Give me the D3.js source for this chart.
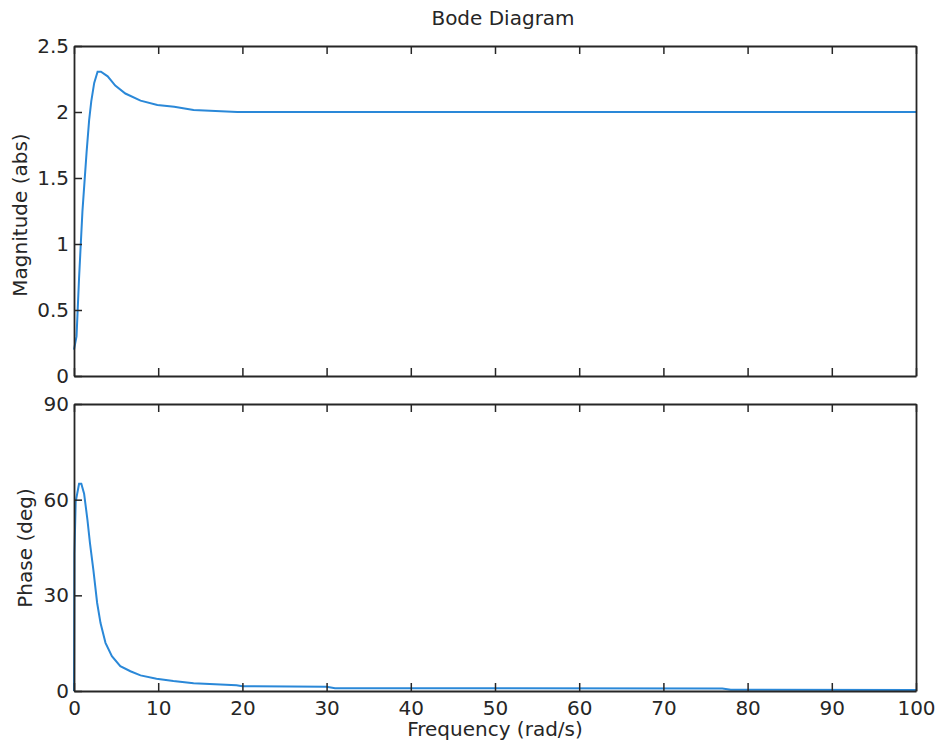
<!DOCTYPE html>
<html><head><meta charset="utf-8">
<script src="https://cdn.jsdelivr.net/npm/d3@7"></script>
<style>
html,body{margin:0;padding:0;background:#fff;}
svg text{font-family:"DejaVu Sans",sans-serif;fill:#262626;}
</style></head>
<body>
<svg id="chart" width="942" height="742"></svg>
<script>
// ---- data ----
const titleText = "Bode Diagram";
const xLabel = "Frequency  (rad/s)";
const magLabel = "Magnitude (abs)";
const phaseLabel = "Phase (deg)";
const xTicks = [0,10,20,30,40,50,60,70,80,90,100];
const magTicks = [0,0.5,1,1.5,2,2.5];
const magTickLabels = ["0","0.5","1","1.5","2","2.5"];
const phaseTicks = [0,30,60,90];
const freqMag = [0, 0.3, 0.6, 1.0, 1.5, 1.8, 2.05, 2.4, 2.8, 3.2, 4.0, 4.9, 6.1, 7.9, 9.9, 11.9, 14.2, 19.4, 30, 50, 77, 100];
const magnitude = [0.2, 0.3, 0.74, 1.245, 1.70, 1.94, 2.08, 2.22, 2.305, 2.305, 2.27, 2.20, 2.14, 2.086, 2.053, 2.04, 2.015, 2.0, 2.0, 2.0, 2.0, 2.0];
const freqPhase = [0, 0.05, 0.2, 0.6, 0.87, 1.2, 1.6, 1.9, 2.3, 2.75, 3.15, 3.74, 4.5, 5.5, 6.7, 7.9, 9.8, 11.8, 14.2, 19.3, 20, 30, 31, 77, 78, 100];
const phase = [0, 43, 59.3, 65, 65, 61.9, 53.6, 46.3, 38, 27.6, 21.3, 15.1, 10.9, 7.8, 6.2, 4.9, 3.85, 3.1, 2.4, 1.8, 1.5, 1.3, 0.9, 0.8, 0.4, 0.3];

const svg = d3.select("#chart");
const left = 74, right = 916;
const lineColor = "#2a88d8", axisColor = "#262626";
const fs = 20, tickLen = 8;

const x = d3.scaleLinear().domain([0,100]).range([left,right]);
const yMag = d3.scaleLinear().domain([0,2.5]).range([376,46]);
const yPh = d3.scaleLinear().domain([0,90]).range([691,404]);

function panel(y, ticks, labels, dataX, dataY, showXLabels) {
  const [y0, y1] = y.range();
  const line = d3.line().x((d,i)=>x(dataX[i])).y(d=>y(d));
  svg.append("path").datum(dataY).attr("d", line)
    .attr("fill","none").attr("stroke",lineColor).attr("stroke-width",2);
  const gb = svg.append("g").attr("transform",`translate(0,${y0})`)
    .call(d3.axisBottom(x).tickValues(xTicks).tickSizeInner(-tickLen).tickSizeOuter(0)
      .tickFormat(showXLabels ? d3.format("d") : ""));
  const gt = svg.append("g").attr("transform",`translate(0,${y1})`)
    .call(d3.axisTop(x).tickValues(xTicks).tickSizeInner(-tickLen).tickSizeOuter(0).tickFormat(""));
  const gl = svg.append("g").attr("transform",`translate(${left},0)`)
    .call(d3.axisLeft(y).tickValues(ticks).tickSizeInner(-tickLen).tickSizeOuter(0)
      .tickFormat((d,i)=>labels[i]));
  const gr = svg.append("g").attr("transform",`translate(${right},0)`)
    .call(d3.axisRight(y).tickValues([]).tickSizeOuter(0));
  [gb,gt,gl,gr].forEach(g=>{
    g.select(".domain").attr("stroke",axisColor).attr("stroke-width",1.8);
    g.selectAll(".tick line").attr("stroke",axisColor).attr("stroke-width",1.5);
    g.selectAll(".tick text").attr("font-size",fs).attr("font-family","DejaVu Sans").attr("fill",axisColor);
  });
  gl.selectAll(".tick text").attr("x",-5);
  gb.selectAll(".tick text").attr("y",10);
}

panel(yMag, magTicks, magTickLabels, freqMag, magnitude, false);
panel(yPh, phaseTicks, phaseTicks.map(String), freqPhase, phase, true);

svg.append("text").attr("x",503).attr("y",25).attr("text-anchor","middle")
  .attr("font-size",fs).text(titleText);
svg.append("text").attr("x",495).attr("y",736).attr("text-anchor","middle")
  .attr("font-size",fs).text(xLabel);
svg.append("text").attr("transform","translate(27,215) rotate(-90)").attr("text-anchor","middle")
  .attr("font-size",fs).text(magLabel);
svg.append("text").attr("transform","translate(32,548) rotate(-90)").attr("text-anchor","middle")
  .attr("font-size",fs).text(phaseLabel);
</script>
</body></html>
